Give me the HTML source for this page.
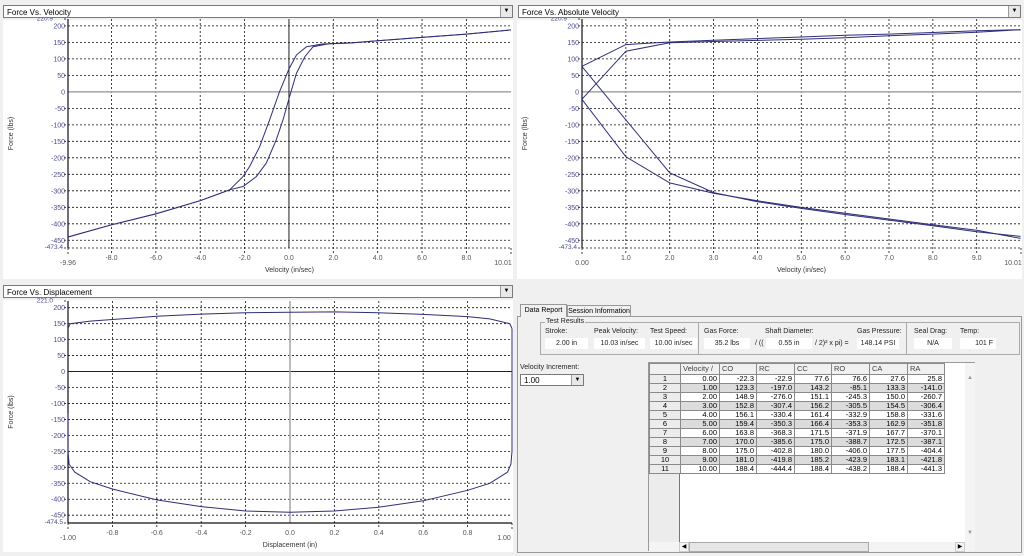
<!DOCTYPE html>
<html><head><meta charset="utf-8">
<style>
body{margin:0;width:1024px;height:556px;overflow:hidden;background:#f0f0f0;font-family:"Liberation Sans",sans-serif;position:relative}
.abs{position:absolute}
.combo{position:absolute;height:13px;background:#fff;border:1px solid #7a7a7a;font-size:8px;line-height:13px;padding-left:3px;box-sizing:border-box}
.combo .btn{position:absolute;right:0;top:0;width:11px;height:11px;background:#e8e8e8;border-left:1px solid #999;font-size:6px;text-align:center;line-height:11px}
.lbl{position:absolute;font-size:7px;color:#222;white-space:nowrap}
.val{position:absolute;height:11px;background:#fff;font-size:7px;line-height:11px;text-align:center;color:#222}
table{border-collapse:collapse;font-size:7.5px;font-family:"Liberation Sans",sans-serif}
td{height:9px;padding:0 2px;line-height:8px;border:1px solid #8a8a8a;text-align:right;box-sizing:border-box;white-space:nowrap}
</style></head><body>
<svg class="abs" style="left:0;top:0" width="1024" height="556" id="svg">
<rect x="3" y="20" width="510" height="259" fill="#fff"/>
<rect x="517" y="20" width="505" height="259" fill="#fff"/>
<rect x="3" y="300" width="510" height="252" fill="#fff"/>
</svg>
<div class="combo" style="left:3px;top:5px;width:510px">Force Vs. Velocity<div class="btn">▼</div></div>
<div class="combo" style="left:518px;top:5px;width:503px">Force Vs. Absolute Velocity<div class="btn">▼</div></div>
<div class="combo" style="left:3px;top:285px;width:510px">Force Vs. Displacement<div class="btn">▼</div></div>

<div class="abs" style="left:517px;top:316px;width:505px;height:237px;border:1px solid #999;box-sizing:border-box"></div>
<div class="abs" style="left:520px;top:304px;width:45px;height:12px;font-size:7px;line-height:12px;background:#f0f0f0;border:1px solid #999;border-bottom:none;text-align:center;white-space:nowrap">Data Report</div>
<div class="abs" style="left:567px;top:305px;width:62px;height:11px;font-size:7px;line-height:11px;border:1px solid #999;border-bottom:none;text-align:center;white-space:nowrap">Session Information</div>
<div class="abs" style="left:540px;top:322px;width:480px;height:33px;border:1px solid #aaa;box-sizing:border-box"></div>
<div class="lbl" style="left:545px;top:318px;background:#f0f0f0;padding:0 1px">Test Results</div>
<div class="abs" style="left:698px;top:323px;width:1px;height:31px;background:#aaa"></div>
<div class="abs" style="left:906px;top:323px;width:1px;height:31px;background:#aaa"></div>
<div class="lbl" style="left:545px;top:328px">Stroke:</div>
<div class="lbl" style="left:594px;top:328px">Peak Velocity:</div>
<div class="lbl" style="left:650px;top:328px">Test Speed:</div>
<div class="lbl" style="left:704px;top:328px">Gas Force:</div>
<div class="lbl" style="left:765px;top:328px">Shaft Diameter:</div>
<div class="lbl" style="left:857px;top:328px">Gas Pressure:</div>
<div class="lbl" style="left:914px;top:328px">Seal Drag:</div>
<div class="lbl" style="left:960px;top:328px">Temp:</div>
<div class="val" style="left:545px;top:338px;width:43px">2.00 in</div>
<div class="val" style="left:594px;top:338px;width:51px">10.03 in/sec</div>
<div class="val" style="left:650px;top:338px;width:47px">10.00 in/sec</div>
<div class="val" style="left:704px;top:338px;width:46px">35.2 lbs</div>
<div class="lbl" style="left:755px;top:340px">/ ((</div>
<div class="val" style="left:766px;top:338px;width:46px">0.55 in</div>
<div class="lbl" style="left:815px;top:340px">/ 2)² x pi) =</div>
<div class="val" style="left:857px;top:338px;width:42px">148.14 PSI</div>
<div class="val" style="left:914px;top:338px;width:38px">N/A</div>
<div class="val" style="left:960px;top:338px;width:36px;text-align:right;padding-right:3px;box-sizing:border-box">101 F</div>
<div class="lbl" style="left:520px;top:364px">Velocity Increment:</div>
<div class="combo" style="left:520px;top:374px;width:64px;height:12px;line-height:11px">1.00<div class="btn" style="height:10px;line-height:10px">▼</div></div>

<div class="abs" style="left:648px;top:362px;width:327px;height:189px;background:#fff;border:1px solid #999;box-sizing:border-box">
<div class="abs" style="left:0;top:0;width:30px;height:179px;background:#ececec;border-right:1px solid #777"></div>
<div class="abs" style="left:316px;top:0;width:10px;height:179px;background:#f4f4f4"></div>
<div class="abs" style="left:318px;top:12px;font-size:6px;color:#999">▲</div>
<div class="abs" style="left:318px;top:167px;font-size:6px;color:#999">▼</div>
<div class="abs" style="left:0;top:179px;width:326px;height:9px;background:#f4f4f4"></div>
<div class="abs" style="left:30px;top:179px;width:8px;height:8px;font-size:6px;text-align:center;border:1px solid #ccc">◀</div>
<div class="abs" style="left:40px;top:179px;width:178px;height:8px;background:#e6e6e6;border:1px solid #aaa"></div>
<div class="abs" style="left:306px;top:179px;width:8px;height:8px;font-size:6px;text-align:center;border:1px solid #ccc">▶</div>
<table class="abs" style="left:0;top:0" id="tbl"></table>
</div>

<script>
// ---- table data ----
const velocity=[0,1,2,3,4,5,6,7,8,9,10];
const CO=[-22.3,123.3,148.9,152.8,156.1,159.4,163.8,170.0,175.0,181.0,188.4];
const RC=[-22.9,-197.0,-276.0,-307.4,-330.4,-350.3,-368.3,-385.6,-402.8,-419.8,-444.4];
const CC=[77.6,143.2,151.1,156.2,161.4,166.4,171.5,175.0,180.0,185.2,188.4];
const RO=[76.6,-85.1,-245.3,-305.5,-332.9,-353.3,-371.9,-388.7,-406.0,-423.9,-438.2];
const CA=[27.6,133.3,150.0,154.5,158.8,162.9,167.7,172.5,177.5,183.1,188.4];
const RA=[25.8,-141.0,-260.7,-306.4,-331.6,-351.8,-370.1,-387.1,-404.4,-421.8,-441.3];
const colHeads=["","Velocity /","CO","RC","CC","RO","CA","RA"];
const colW=[31,39,37,38,37,38,38,37];

// ---- chart 1 (force vs velocity) ----
const fvUpperV=[-9.96,-8,-6,-4,-2.67,-2.07,-1.77,-1.32,-0.87,-0.42,0,0.34,0.79,1.5,2.75,4,6,8,10.01];
const fvUpperF=[-440,-403,-370,-330,-297,-257,-226,-166,-85,1,69,112,137,145,148,155,165,175,188];
const fvLowerV=[-9.96,-8,-6,-4,-2.67,-2.07,-1.47,-1.02,-0.57,-0.27,0.03,0.34,0.72,1.09,1.8,2.75,4,6,8,10.01];
const fvLowerF=[-440,-403,-370,-330,-297,-287,-257,-216,-145,-85,-14,57,107,137,146,148,155,165,175,188];

// ---- chart 3 (force vs displacement) estimated ----
const dTop=[-1,-0.99,-0.9,-0.8,-0.6,-0.4,-0.2,0,0.2,0.4,0.6,0.8,0.9,0.99,1.0];
const fTop=[135,150,158,163,173,180,184,186,187,184,179,172,165,150,135];
const dRight=[1.0,1.0,0.995,0.98];
const fRight=[135,-250,-290,-315];
const dBot=[0.98,0.9,0.8,0.6,0.4,0.2,0,-0.2,-0.4,-0.6,-0.8,-0.9,-0.97,-0.995,-1.0];
const fBot=[-315,-350,-372,-405,-425,-437,-441,-437,-423,-402,-368,-345,-315,-290,-250];
const dLeft=[-1.0,-1.0];
const fLeft=[-250,-130];

const yTicks=[200,150,100,50,0,-50,-100,-150,-200,-250,-300,-350,-400,-450];
const x1Ticks=[-8,-6,-4,-2,0,2,4,6,8];
const x2Ticks=[1,2,3,4,5,6,7,8,9];
const x3Ticks=[-0.8,-0.6,-0.4,-0.2,0,0.2,0.4,0.6,0.8];

// build table
const tbl=document.getElementById('tbl');
let hr=document.createElement('tr');
colHeads.forEach((h,i)=>{const td=document.createElement('td');td.textContent=h;td.style.width=colW[i]+'px';td.style.height='11px';td.style.background='#f0f0f0';td.style.textAlign='left';td.style.color='#444';hr.appendChild(td);});
tbl.appendChild(hr);
velocity.forEach((v,r)=>{
  const tr=document.createElement('tr');
  
  
  const cells=[String(r+1),v.toFixed(2),CO[r].toFixed(1),RC[r].toFixed(1),CC[r].toFixed(1),RO[r].toFixed(1),CA[r].toFixed(1),RA[r].toFixed(1)];
  cells.forEach((c,i)=>{const td=document.createElement('td');td.textContent=c;
    if(i==0){td.style.background='#ececec';td.style.textAlign='center';}
    else td.style.background=(r%2)?'#dcdcdc':'#fff';
    tr.appendChild(td);});
  tbl.appendChild(tr);
});

const NS='http://www.w3.org/2000/svg';
const svg=document.getElementById('svg');
function el(tag,attrs,parent){const e=document.createElementNS(NS,tag);for(const k in attrs)e.setAttribute(k,attrs[k]);(parent||svg).appendChild(e);return e;}
function txt(x,y,s,anchor,color,size,parent){const t=el('text',{x:x,y:y,'text-anchor':anchor,fill:color,'font-size':size||7,'font-family':'Liberation Sans, sans-serif'},parent);t.textContent=s;return t;}

function chart(c){
  const g=el('g',{});
  
  
  const sx=v=>c.px0+(v-c.xmin)/(c.xmax-c.xmin)*(c.px1-c.px0);
  const sy=v=>c.py0+(c.ymax-v)/(c.ymax-c.ymin)*(c.py1-c.py0);
  yTicks.forEach(t=>{
    if(t!==0) el('line',{x1:c.px0-4,x2:c.px1,y1:sy(t),y2:sy(t),stroke:'#111','stroke-width':0.8,'stroke-dasharray':'2,2'},g);
    txt(c.px0-3,sy(t)+2.5,String(t),'end','#4a4a8a',7,g);
  });
  el('line',{x1:c.px0-4,x2:c.px0,y1:c.py0,y2:c.py0,stroke:'#111','stroke-width':0.8,'stroke-dasharray':'2,2'},g);
  el('line',{x1:c.px0-4,x2:c.px1,y1:c.py1,y2:c.py1,stroke:'#111','stroke-width':0.8,'stroke-dasharray':'2,2'},g);
  txt(c.px0-15,c.py0+1.5,c.ymax.toFixed(1),'end','#4a4a8a',6.5,g);
  txt(c.px0-5,c.py1+1,c.ymin.toFixed(1),'end','#4a4a8a',6.5,g);
  c.xt.forEach(t=>{
    if(!(t===0 && c.zeroX))
      el('line',{x1:sx(t),x2:sx(t),y1:c.py0,y2:c.py1+5,stroke:'#111','stroke-width':0.8,'stroke-dasharray':'2,2'},g);
    txt(sx(t),c.py1+12,t.toFixed(c.dec),'middle','#555',7,g);
  });
  el('line',{x1:c.px1,x2:c.px1,y1:c.py1,y2:c.py1+8,stroke:'#111','stroke-width':0.8,'stroke-dasharray':'2,2'},g);
  el('line',{x1:c.px0,x2:c.px0,y1:c.py1,y2:c.py1+8,stroke:'#111','stroke-width':0.8,'stroke-dasharray':'2,2'},g);
  txt(c.px0,c.py1+17,c.xmin.toFixed(2),'middle','#555',7,g);
  txt(c.px1-8,c.py1+17,c.xmax.toFixed(2),'middle','#555',7,g);
  if(c.grayH) el('line',{x1:c.px0,x2:c.px1,y1:sy(0),y2:sy(0),stroke:'#aaa','stroke-width':1.6},g);
  else el('line',{x1:c.px0,x2:c.px1,y1:sy(0),y2:sy(0),stroke:'#222','stroke-width':1},g);
  if(c.zeroX){
    el('line',{x1:sx(0),x2:sx(0),y1:c.py0,y2:c.py1,stroke:c.grayH?'#222':'#aaa','stroke-width':c.grayH?1:1.6},g);
  }
  el('line',{x1:c.px0,x2:c.px0,y1:c.py0,y2:c.py1,stroke:'#111','stroke-width':1.2},g);
  if(c.bottomAxis) el('line',{x1:c.px0,x2:c.px1,y1:c.py1,y2:c.py1,stroke:'#111','stroke-width':1.2},g);
  txt((c.px0+c.px1)/2,c.py1+24,c.xtitle,'middle','#333',7,g);
  const yt=txt(0,0,'Force (lbs)','middle','#333',7,g);
  yt.setAttribute('transform','translate('+(c.px0-55)+','+((c.py0+c.py1)/2)+') rotate(-90)');
  c.series.forEach((s,i)=>{
    const d=s.x.map((v,j)=>(j?'L':'M')+sx(v).toFixed(1)+','+sy(s.y[j]).toFixed(1)).join(' ');
    const p=el('path',{d:d,fill:'none',stroke:'#2e2e78','stroke-width':1},g);
    
    
  });
}
chart({name:'force-vs-velocity-chart',xmin:-9.96,xmax:10.01,ymin:-473.4,ymax:220.9,px0:68,px1:511,py0:19,py1:248,xt:x1Ticks,dec:1,zeroX:true,grayH:true,xtitle:'Velocity (in/sec)',
  series:[{x:fvUpperV,y:fvUpperF},{x:fvLowerV,y:fvLowerF}]});
chart({name:'force-vs-absolute-velocity-chart',xmin:0,xmax:10.01,ymin:-473.4,ymax:220.9,px0:582,px1:1021,py0:19,py1:248,xt:x2Ticks,dec:1,zeroX:false,grayH:true,xtitle:'Velocity (in/sec)',
  series:[{x:velocity,y:CO},{x:velocity,y:RC},{x:velocity,y:CC},{x:velocity,y:RO}]});
chart({name:'force-vs-displacement-chart',xmin:-1,xmax:1,ymin:-474.5,ymax:221.0,px0:68,px1:512,py0:301,py1:523,xt:x3Ticks,dec:1,zeroX:true,grayH:false,bottomAxis:true,xtitle:'Displacement (in)',
  series:[{x:dTop,y:fTop},{x:dRight,y:fRight},{x:dBot,y:fBot},{x:dLeft,y:fLeft}]});
</script>
</body></html>
